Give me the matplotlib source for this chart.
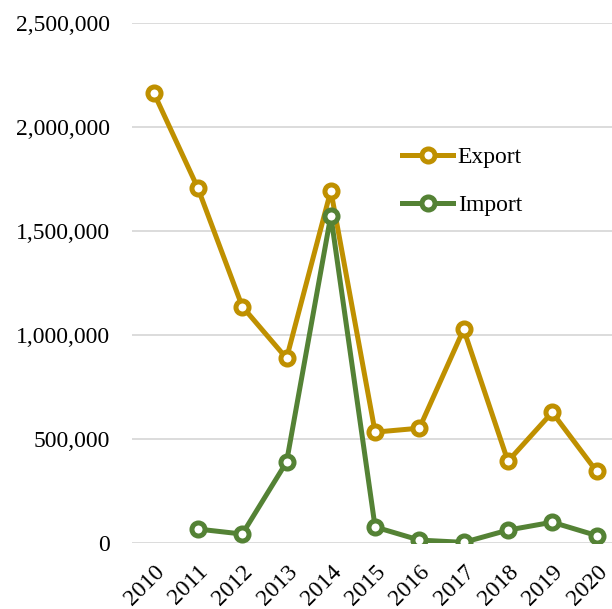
import matplotlib.pyplot as plt
from matplotlib.ticker import FuncFormatter

years = ["2010", "2011", "2012", "2013", "2014", "2015", "2016", "2017", "2018", "2019", "2020"]
export = [2165000, 1705000, 1137000, 888000, 1694000, 533000, 552000, 1027000, 393000, 628000, 345000]
import_years = years[1:]
imports = [67000, 43000, 389000, 1574000, 77000, 14000, 3000, 62000, 100000, 36000]

plt.rcParams["font.family"] = ["Liberation Serif", "DejaVu Serif"]

fig = plt.figure(figsize=(6.12, 6.09), dpi=100)
# axes spans the plot area of the original (left gridline start to right edge)
ax = fig.add_axes([132 / 612, 1 - 543 / 609, 1 - 132 / 612, (543 - 23) / 609])

x_exp = range(len(years))
x_imp = [years.index(y) for y in import_years]

ax.plot(x_exp, export, color="#BF9000", lw=3.6, marker="o", ms=9.4,
        mfc="white", mec="#BF9000", mew=3.6, label="Export", zorder=3)
ax.plot(x_imp, imports, color="#548235", lw=3.6, marker="o", ms=9.4,
        mfc="white", mec="#548235", mew=3.6, label="Import", zorder=3)

ax.set_ylim(0, 2500000)
ax.set_yticks(range(0, 2500001, 500000))
ax.yaxis.set_major_formatter(FuncFormatter(lambda v, p: f"{int(v):,}"))
ax.set_xlim(-0.49, 10.35)
ax.set_xticks(list(x_exp))
ax.set_xticklabels(years, rotation=45, ha="right", rotation_mode="anchor")

ax.grid(axis="y", color="#D9D9D9", lw=1.3)
ax.set_axisbelow(True)
for s in ax.spines.values():
    s.set_visible(False)
ax.tick_params(length=0, labelsize=17, colors="black")
ax.tick_params(axis="y", pad=16)
ax.tick_params(axis="x", pad=13)

ax.legend(loc="upper left", bbox_to_anchor=(381 / 612, 1 - 125 / 609),
          bbox_transform=fig.transFigure, frameon=False, fontsize=17,
          handlelength=2.15, handletextpad=0.2, labelspacing=1.15)

fig.savefig("out.png", dpi=100)
